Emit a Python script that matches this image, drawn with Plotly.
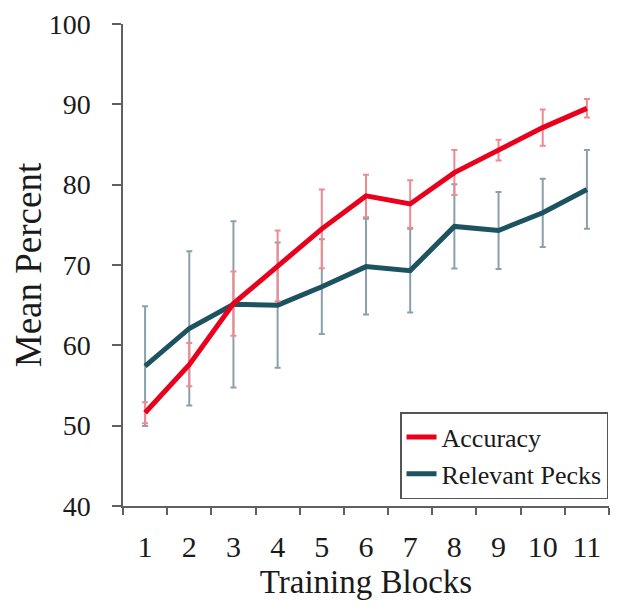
import plotly.graph_objects as go

blocks = ["1", "2", "3", "4", "5", "6", "7", "8", "9", "10", "11"]
accuracy = [51.6, 57.6, 65.2, 69.9, 74.5, 78.6, 77.6, 81.5, 84.3, 87.1, 89.5]
accuracy_err = [1.3, 2.7, 4.0, 4.4, 4.9, 2.65, 2.95, 2.8, 1.3, 2.25, 1.15]
pecks = [57.4, 62.1, 65.1, 65.0, 67.3, 69.8, 69.3, 74.8, 74.3, 76.5, 79.4]
pecks_err = [7.45, 9.6, 10.35, 7.8, 5.9, 5.95, 5.2, 5.25, 4.8, 4.25, 4.9]

RED = "#e8001c"
TEAL = "#1d5260"
FONT = "Liberation Serif"
AXIS = "#606060"

fig = go.Figure()
fig.add_trace(go.Scatter(
    x=blocks, y=pecks, name="Relevant Pecks", mode="lines",
    line=dict(color=TEAL, width=5),
    error_y=dict(type="data", array=pecks_err, visible=True,
                 color="#8aa0ab", thickness=2, width=3),
    legendrank=2, legendgroup="b",
))
fig.add_trace(go.Scatter(
    x=blocks, y=accuracy, name="Accuracy", mode="lines",
    line=dict(color=RED, width=5),
    error_y=dict(type="data", array=accuracy_err, visible=True,
                 color="#f08a90", thickness=2, width=3),
    legendrank=1, legendgroup="a",
))

fig.update_layout(
    width=613, height=605,
    margin=dict(l=115, r=12, t=16, b=107, autoexpand=False),
    paper_bgcolor="white", plot_bgcolor="white",
    font=dict(family=FONT, color="#1a1a1a", size=24),
    legend=dict(
        x=0.570, y=0.195, xanchor="left", yanchor="top",
        bordercolor="#555555", borderwidth=1.5,
        font=dict(size=26, family=FONT, color="#1a1a1a"),
        itemwidth=30, tracegroupgap=0, traceorder="grouped",
        bgcolor="white",
    ),
    showlegend=True,
)
fig.update_xaxes(
    type="category", range=[-0.5, 10.5], tickson="boundaries",
    ticks="outside", ticklen=7, tickwidth=1.5, tickcolor=AXIS,
    showline=True, linecolor=AXIS, linewidth=1.5,
    showgrid=False, zeroline=False, automargin=False,
    tickfont=dict(size=30), ticklabelstandoff=13,
    title=dict(text="Training Blocks", font=dict(size=33), standoff=8),
)
fig.update_yaxes(
    range=[40, 100], dtick=10, tick0=40,
    ticks="outside", ticklen=9, tickwidth=1.5, tickcolor=AXIS,
    showline=True, linecolor=AXIS, linewidth=1.5,
    showgrid=False, zeroline=False, automargin=False,
    tickfont=dict(size=28), ticklabelstandoff=16, ticklabeloverflow="allow",
    title=dict(text="Mean Percent", font=dict(size=37), standoff=10),
)

fig.write_html("out.html")
